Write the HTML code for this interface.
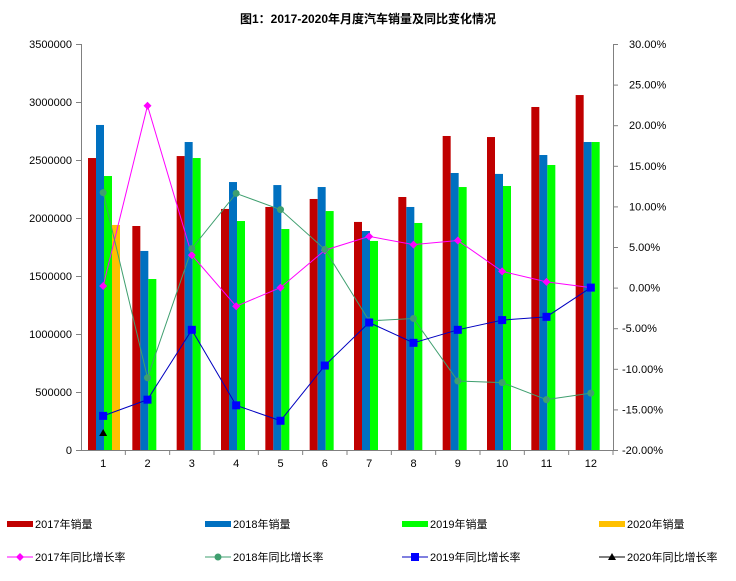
<!DOCTYPE html>
<html><head><meta charset="utf-8"><style>
body{margin:0;background:#fff;}
svg{display:block;font-family:"Liberation Sans","Noto Sans CJK SC",sans-serif;}
</style></head><body>
<svg width="736" height="581" viewBox="0 0 736 581" xmlns="http://www.w3.org/2000/svg">
<rect width="736" height="581" fill="#fff"/>
<text x="368" y="23" text-anchor="middle" font-size="12" font-weight="bold" fill="#000">图1：2017-2020年月度汽车销量及同比变化情况</text>
<g id="bars"></g>
<g id="axes" stroke="#808080" stroke-width="1" fill="none">
<line x1="81.5" y1="44" x2="81.5" y2="450"/>
<line x1="613.5" y1="44" x2="613.5" y2="450"/>
<line x1="81" y1="450.5" x2="613" y2="450.5"/>
</g>
<g id="ticks" stroke="#808080"></g>
<g id="labels" font-size="11" fill="#000"></g>
<g id="lines"></g>
<g font-size="11" fill="#000">
<rect x="7" y="521" width="26" height="6" fill="#c00000"/><text x="35" y="528">2017年销量</text>
<rect x="205" y="521" width="26" height="6" fill="#0070c0"/><text x="233" y="528">2018年销量</text>
<rect x="402" y="521" width="26" height="6" fill="#00ff00"/><text x="430" y="528">2019年销量</text>
<rect x="599" y="521" width="26" height="6" fill="#ffc000"/><text x="627" y="528">2020年销量</text>
<line x1="7" y1="557" x2="33" y2="557" stroke="#ff00ff"/><path d="M20 553L24 557L20 561L16 557Z" fill="#ff00ff"/><text x="35" y="561">2017年同比增长率</text>
<line x1="205" y1="557" x2="231" y2="557" stroke="#3f9f6f"/><circle cx="218" cy="557" r="3.5" fill="#3f9f6f"/><text x="233" y="561">2018年同比增长率</text>
<line x1="402" y1="557" x2="428" y2="557" stroke="#0000c0"/><rect x="411" y="553" width="8" height="8" fill="#0000ff"/><text x="430" y="561">2019年同比增长率</text>
<line x1="599" y1="557" x2="625" y2="557" stroke="#000"/><path d="M612 553L616 560L608 560Z" fill="#000"/><text x="627" y="561">2020年同比增长率</text>
</g>
</svg>
<script>
const NS="http://www.w3.org/2000/svg";
function el(p,t,a,txt){const e=document.createElementNS(NS,t);for(const k in a)e.setAttribute(k,a[k]);if(txt!==undefined)e.textContent=txt;document.getElementById(p).appendChild(e);return e;}
const s17=[2517,1931,2534,2078,2095,2164,1966,2181,2707,2698,2957,3060];
const s18=[2802,1716,2655,2310,2284,2267,1888,2095,2388,2380,2543,2655];
const s19=[2362,1474,2517,1974,1905,2060,1802,1957,2267,2276,2457,2655];
const cw=(613-81)/12;
const yv=v=>450-v*1000/3500000*406;
const yp=p=>450-(p+20)*8.12;
const cols=["#c00000","#0070c0","#00ff00","#ffc000"];
for(let i=0;i<12;i++){
  const x0=81+cw*i+7;
  [s17,s18,s19].forEach((s,j)=>{const y=yv(s[i]);el("bars","rect",{x:x0+j*8,y:y,width:8,height:450-y,fill:cols[j]});});
  el("labels","text",{x:81+cw*(i+0.5),y:467,"text-anchor":"middle"},String(i+1));
  el("ticks","line",{x1:81+cw*(i+1),y1:450,x2:81+cw*(i+1),y2:455});
}
el("bars","rect",{x:81+7+24,y:yv(1940),width:8,height:450-yv(1940),fill:cols[3]});
for(let k=0;k<=7;k++){const y=450-k*58;
  el("ticks","line",{x1:76,y1:y+0.5,x2:81,y2:y+0.5});
  el("labels","text",{x:72,y:y+4,"text-anchor":"end"},String(k*500000));
}
for(let k=0;k<=10;k++){const y=450-k*40.6;
  el("ticks","line",{x1:613,y1:y+0.5,x2:618,y2:y+0.5});
  const p=-20+k*5;
  el("labels","text",{x:p<0?622:629,y:y+4},p.toFixed(2)+"%");
}
const p17=[0.2,22.4,4.0,-2.3,0,4.6,6.3,5.3,5.8,2.0,0.7,0];
const p18=[11.7,-11.1,4.8,11.6,9.6,4.7,-4.1,-3.8,-11.5,-11.7,-13.8,-13];
const p19=[-15.8,-13.8,-5.2,-14.5,-16.4,-9.6,-4.3,-6.8,-5.2,-4,-3.6,0];
function line(d,c){el("lines","polyline",{points:d.map((p,i)=>(81+cw*(i+0.5))+","+yp(p)).join(" "),fill:"none",stroke:c,"stroke-width":1});}
line(p17,"#ff00ff");line(p18,"#3f9f6f");line(p19,"#0000c0");
for(let i=0;i<12;i++){const x=81+cw*(i+0.5);
  let y=yp(p17[i]);el("lines","path",{d:`M${x} ${y-4}L${x+4} ${y}L${x} ${y+4}L${x-4} ${y}Z`,fill:"#ff00ff"});
  y=yp(p18[i]);el("lines","circle",{cx:x,cy:y,r:3.5,fill:"#3f9f6f"});
  y=yp(p19[i]);el("lines","rect",{x:x-4,y:y-4,width:8,height:8,fill:"#0000ff"});
}
{const x=81+cw*0.5,y=yp(-17.9);el("lines","path",{d:`M${x} ${y-4}L${x+4} ${y+3}L${x-4} ${y+3}Z`,fill:"#000"});}
</script>
</body></html>
